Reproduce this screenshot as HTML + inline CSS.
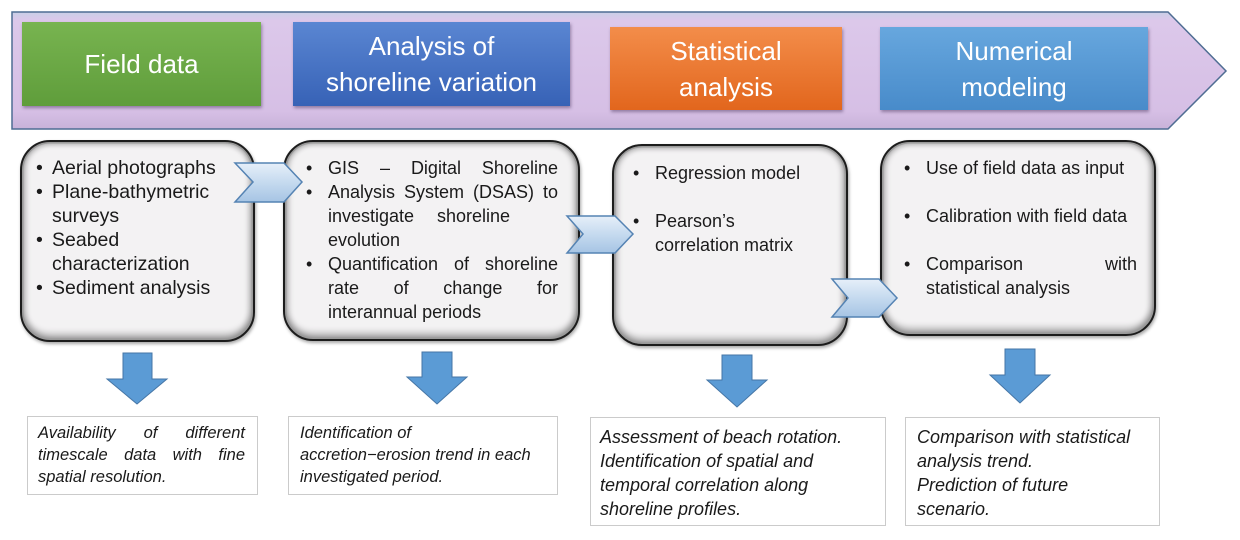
<!DOCTYPE html>
<html>
<head>
<meta charset="utf-8">
<style>
  html,body{margin:0;padding:0;}
  body{width:1240px;height:540px;background:#fff;position:relative;overflow:hidden;font-family:"Liberation Sans",sans-serif;color:#1a1a1a;}
  .abs{position:absolute;}
  .hd{position:absolute;color:#fff;font-size:26px;line-height:36px;text-align:center;display:flex;align-items:center;justify-content:center;box-shadow:1px 2px 3px rgba(60,40,80,.45);}
  .rb{position:absolute;border:2.5px solid #1c1c1c;border-radius:30px;background:#f3f2f3;
      box-shadow:inset 0 0 0 1.5px #9a9a9a, inset 0 -6px 7px rgba(0,0,0,.28), inset -4px 0 6px rgba(0,0,0,.22), inset 4px 0 6px rgba(0,0,0,.18), inset 0 4px 5px rgba(0,0,0,.12), 1px 2px 3px rgba(0,0,0,.35);box-sizing:border-box;}
  .tx{position:absolute;font-size:18px;}
  .ln{position:relative;height:24px;line-height:24px;white-space:nowrap;}
  .j{display:flex;justify-content:space-between;}
  .b::before{content:"\2022";position:absolute;top:0;left:-22px;}
  .tx1 .b::before{left:-16px;}
  .tb{position:absolute;border:1.5px solid #cbcbcb;background:#fff;box-sizing:border-box;}
  .it{position:absolute;font-style:italic;white-space:nowrap;}
</style>
</head>
<body>

<!-- Banner arrow -->
<svg class="abs" style="left:0;top:0" width="1240" height="540">
  <defs>
    <linearGradient id="bg" x1="0" y1="0" x2="0" y2="1">
      <stop offset="0" stop-color="#c9cfe6"/>
      <stop offset="0.07" stop-color="#dcc8ea"/>
      <stop offset="0.85" stop-color="#d6bfe5"/>
      <stop offset="1" stop-color="#c8b2d9"/>
    </linearGradient>
  </defs>
  <polygon points="12,12 1168,12 1226,71 1168,129 12,129" fill="url(#bg)" stroke="#4f6d93" stroke-width="1.5"/>
</svg>

<!-- Header boxes -->
<div class="hd" style="left:22px;top:22px;width:239px;height:84px;background:linear-gradient(#78b450,#5f9d3b);">Field data</div>
<div class="hd" style="left:293px;top:22px;width:277px;height:84px;background:linear-gradient(#5a86d2,#3762b6);">Analysis of<br>shoreline variation</div>
<div class="hd" style="left:610px;top:27px;width:232px;height:83px;background:linear-gradient(#f38d4a,#e2661d);">Statistical<br>analysis</div>
<div class="hd" style="left:880px;top:27px;width:268px;height:83px;background:linear-gradient(#67a7de,#488bca);">Numerical<br>modeling</div>

<!-- Rounded boxes -->
<div class="rb" style="left:20px;top:140px;width:235px;height:202px;"></div>
<div class="rb" style="left:283px;top:140px;width:297px;height:201px;"></div>
<div class="rb" style="left:612px;top:144px;width:236px;height:202px;"></div>
<div class="rb" style="left:880px;top:140px;width:276px;height:196px;"></div>

<!-- Box 1 text -->
<div class="tx tx1" style="left:52px;top:156px;font-size:19.5px;">
  <div class="ln b">Aerial photographs</div>
  <div class="ln b">Plane-bathymetric</div>
  <div class="ln">surveys</div>
  <div class="ln b">Seabed</div>
  <div class="ln">characterization</div>
  <div class="ln b">Sediment analysis</div>
</div>

<!-- Box 2 text -->
<div class="tx" style="left:328px;top:156px;width:230px;">
  <div class="ln b j"><span>GIS</span><span>–</span><span>Digital</span><span>Shoreline</span></div>
  <div class="ln b j"><span>Analysis</span><span>System</span><span>(DSAS)</span><span>to</span></div>
  <div class="ln j" style="width:182px;"><span>investigate</span><span>shoreline</span></div>
  <div class="ln">evolution</div>
  <div class="ln b j"><span>Quantification</span><span>of</span><span>shoreline</span></div>
  <div class="ln j"><span>rate</span><span>of</span><span>change</span><span>for</span></div>
  <div class="ln">interannual periods</div>
</div>

<!-- Box 3 text -->
<div class="tx" style="left:655px;top:161px;">
  <div class="ln b">Regression model</div>
  <div class="ln"></div>
  <div class="ln b">Pearson’s</div>
  <div class="ln">correlation matrix</div>
</div>

<!-- Box 4 text -->
<div class="tx" style="left:926px;top:156px;width:211px;">
  <div class="ln b">Use of field data as input</div>
  <div class="ln"></div>
  <div class="ln b">Calibration with field data</div>
  <div class="ln"></div>
  <div class="ln b j"><span>Comparison</span><span>with</span></div>
  <div class="ln">statistical analysis</div>
</div>

<!-- Chevrons and down arrows -->
<svg class="abs" style="left:0;top:0" width="1240" height="540">
  <defs>
    <linearGradient id="cg" x1="0" y1="0" x2="0" y2="1">
      <stop offset="0" stop-color="#e6eff9"/>
      <stop offset="0.5" stop-color="#c5daef"/>
      <stop offset="1" stop-color="#a6c4e4"/>
    </linearGradient>
  </defs>
  <polygon points="235,163 284,163 302,182 284,202 235,202 253,182" fill="url(#cg)" stroke="#5583b3" stroke-width="1.5"/>
  <polygon points="567,216 615,216 633,234 615,253 567,253 583,234" fill="url(#cg)" stroke="#5583b3" stroke-width="1.5"/>
  <polygon points="832,279 879,279 897,298 879,317 832,317 848,298" fill="url(#cg)" stroke="#5583b3" stroke-width="1.5"/>

  <g fill="#5b9bd5" stroke="#4676a6" stroke-width="1">
    <polygon points="123,353 152,353 152,379 167,379 137,404 107,379 123,379"/>
    <polygon points="422,352 452,352 452,377 467,377 437,404 407,377 422,377"/>
    <polygon points="722,355 752,355 752,380 767,380 737,407 707,380 722,380"/>
    <polygon points="1005,349 1035,349 1035,375 1050,375 1020,403 990,375 1005,375"/>
  </g>
</svg>

<!-- Bottom text boxes -->
<div class="tb" style="left:27px;top:416px;width:231px;height:79px;"></div>
<div class="it" style="left:38px;top:422px;width:207px;font-size:16.5px;line-height:22px;">
  <div class="j"><span>Availability</span><span>of</span><span>different</span></div>
  <div class="j"><span>timescale</span><span>data</span><span>with</span><span>fine</span></div>
  <div>spatial resolution.</div>
</div>

<div class="tb" style="left:288px;top:416px;width:270px;height:79px;"></div>
<div class="it" style="left:300px;top:422px;font-size:16.5px;line-height:22px;">
  <div>Identification of</div>
  <div>accretion−erosion trend in each</div>
  <div>investigated period.</div>
</div>

<div class="tb" style="left:590px;top:417px;width:296px;height:109px;"></div>
<div class="it" style="left:600px;top:425px;font-size:18px;line-height:24px;">
  <div>Assessment of beach rotation.</div>
  <div>Identification of spatial and</div>
  <div>temporal correlation along</div>
  <div>shoreline profiles.</div>
</div>

<div class="tb" style="left:905px;top:417px;width:255px;height:109px;"></div>
<div class="it" style="left:917px;top:425px;font-size:18px;line-height:24px;">
  <div>Comparison with statistical</div>
  <div>analysis trend.</div>
  <div>Prediction of future</div>
  <div>scenario.</div>
</div>

</body>
</html>
